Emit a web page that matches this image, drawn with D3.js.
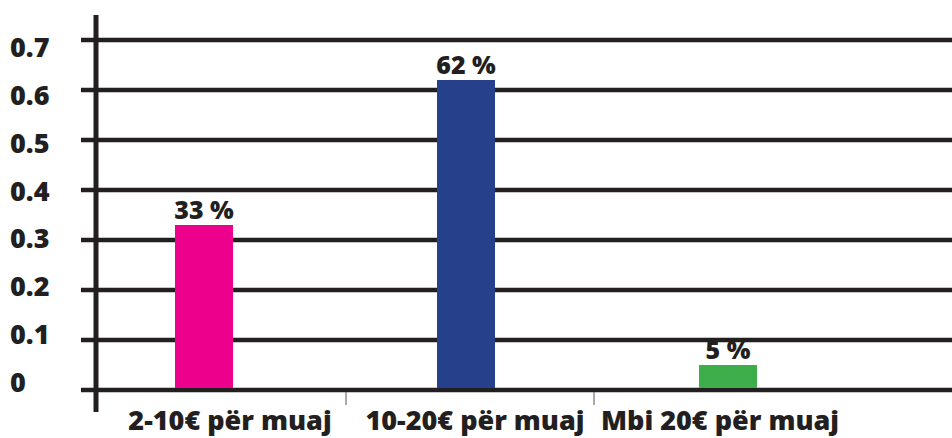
<!DOCTYPE html>
<html><head><meta charset="utf-8">
<script src="https://cdn.jsdelivr.net/npm/d3@7"></script>
<style>
html,body{margin:0;padding:0;background:#fff;}
svg{display:block;}
text{font-family:"Open Sans","Lato",sans-serif;font-weight:800;fill:#231f20;}
</style></head>
<body>
<svg id="chart" width="952" height="438"></svg>
<script>
const categories = ["2-10€ për muaj", "10-20€ për muaj", "Mbi 20€ për muaj"];
const values = [0.33, 0.62, 0.05];
const valueLabels = ["33 %", "62 %", "5 %"];
const colors = ["#ec008c", "#26408b", "#3dae49"];
const yTicks = [0, 0.1, 0.2, 0.3, 0.4, 0.5, 0.6, 0.7];
const yTickLabels = ["0", "0.1", "0.2", "0.3", "0.4", "0.5", "0.6", "0.7"];

const svg = d3.select("#chart");
const ink = "#231f20";

const y = d3.scaleLinear().domain([0, 0.7]).range([390, 40]);
const yLab = d3.scaleLinear().domain([0, 0.7]).range([392, 57]);
const xBand = d3.scaleBand().domain(categories).range([98, 842]);
const xBar = d3.scalePoint().domain(categories).range([204, 728]);
const xLab = d3.scalePoint().domain(categories).range([230, 720]);
const barW = 58;

svg.append("g").selectAll("line").data(yTicks).join("line")
  .attr("x1", 81).attr("x2", 952)
  .attr("y1", d => y(d)).attr("y2", d => y(d))
  .attr("stroke", ink).attr("stroke-width", 4.5);

svg.append("g").selectAll("text").data(yTicks).join("text")
  .attr("x", 10).attr("y", d => yLab(d))
  .attr("font-size", 27)
  .text((d, i) => yTickLabels[i]);

svg.append("g").selectAll("rect").data(values).join("rect")
  .attr("x", (d, i) => xBar(categories[i]) - barW / 2)
  .attr("width", barW)
  .attr("y", d => y(d))
  .attr("height", d => y(0) - y(d) - 2)
  .attr("fill", (d, i) => colors[i]);

svg.append("g").selectAll("text").data(values).join("text")
  .attr("x", (d, i) => xBar(categories[i]))
  .attr("y", d => y(d) - 6)
  .attr("text-anchor", "middle")
  .attr("font-size", 25)
  .text((d, i) => valueLabels[i]);

svg.append("g").selectAll("line").data(categories.slice(1)).join("line")
  .attr("x1", d => xBand(d)).attr("x2", d => xBand(d))
  .attr("y1", 392).attr("y2", 405)
  .attr("stroke", "#555").attr("stroke-width", 1);

svg.append("g").selectAll("text").data(categories).join("text")
  .attr("x", d => xLab(d)).attr("y", 430)
  .attr("text-anchor", "middle")
  .attr("font-size", 27)
  .text(d => d);

svg.append("line")
  .attr("x1", 96).attr("x2", 96).attr("y1", 15).attr("y2", 412)
  .attr("stroke", ink).attr("stroke-width", 5);
</script>
</body></html>
